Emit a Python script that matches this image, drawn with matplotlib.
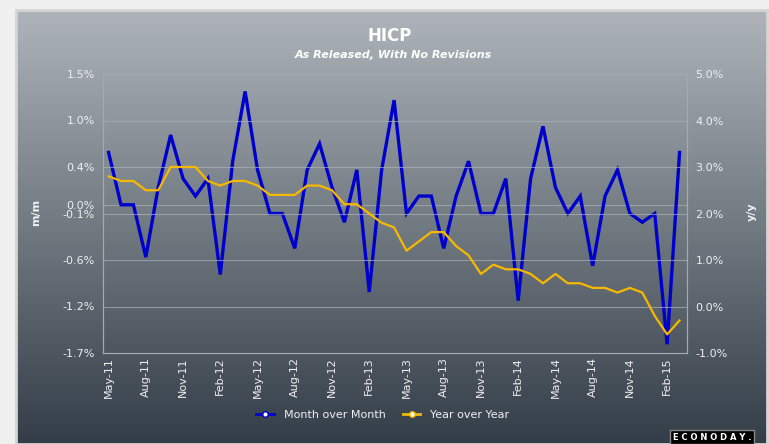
import numpy as np
import matplotlib
matplotlib.use("Agg")
import matplotlib.pyplot as plt
from matplotlib.lines import Line2D

# data, monthly
mom = [0.6, 0.0, 0.0, -0.6, 0.2, 0.8, 0.3, 0.1, 0.3, -0.8, 0.5, 1.3,
       0.4, -0.1, -0.1, -0.5, 0.4, 0.7, 0.2, -0.2, 0.4, -1.0, 0.4, 1.2,
       -0.1, 0.1, 0.1, -0.5, 0.1, 0.5, -0.1, -0.1, 0.3, -1.1, 0.3, 0.9,
       0.2, -0.1, 0.1, -0.7, 0.1, 0.4, -0.1, -0.2, -0.1, -1.6, 0.6]
yoy = [2.8, 2.7, 2.7, 2.5, 2.5, 3.0, 3.0, 3.0, 2.7, 2.6, 2.7, 2.7,
       2.6, 2.4, 2.4, 2.4, 2.6, 2.6, 2.5, 2.2, 2.2, 2.0, 1.8, 1.7,
       1.2, 1.4, 1.6, 1.6, 1.3, 1.1, 0.7, 0.9, 0.8, 0.8, 0.7, 0.5,
       0.7, 0.5, 0.5, 0.4, 0.4, 0.3, 0.4, 0.3, -0.2, -0.6, -0.3]
tick_labels = ['May-11', 'Aug-11', 'Nov-11', 'Feb-12', 'May-12', 'Aug-12',
               'Nov-12', 'Feb-13', 'May-13', 'Aug-13', 'Nov-13', 'Feb-14',
               'May-14', 'Aug-14', 'Nov-14', 'Feb-15']

W, H = 769, 444
fig = plt.figure(figsize=(W / 100, H / 100), dpi=100, facecolor='#f0f0f0')

# gradient panel behind everything
bg = fig.add_axes([16 / W, 0, (767 - 16) / W, 1 - 10 / H], zorder=0)
top = np.array([174, 180, 186]) / 255
bot = np.array([52, 62, 72]) / 255
t = np.linspace(0, 1, 256)[:, None]
grad = top[None, :] * (1 - t) + bot[None, :] * t
bg.imshow(grad[:, None, :], aspect='auto', extent=[0, 1, 0, 1])
bg.set_xticks([])
bg.set_yticks([])
for s in bg.spines.values():
    s.set_color('#d4d4d4')
    s.set_linewidth(2)

x = np.arange(len(mom))
txt = '#eef0f2'
gridc = '#a9b0b6'

ax = fig.add_axes([103 / W, 1 - 353 / H, (687 - 103) / W, (353 - 74) / H], zorder=1)
ax.patch.set_alpha(0)
ax2 = ax.twinx()
ax2.patch.set_alpha(0)

ax.set_xlim(-0.45, 46.6)
ax.set_ylim(-1.7, 1.5)
ax2.set_ylim(-1.0, 5.0)

lticks = list(np.linspace(-1.7, 1.5, 7)) + [0.0]
ax.set_yticks(lticks)
ax.set_yticklabels(['%.1f%%' % v for v in lticks])
ax2.set_yticks(np.arange(-1, 5.1, 1))
ax2.set_yticklabels(['%.1f%%' % v for v in np.arange(-1, 5.1, 1)])

for v in np.arange(0, 5, 1):
    ax2.axhline(v, color=gridc, lw=0.8, alpha=0.7, zorder=0)
ax.axhline(0.0, color=gridc, lw=0.8, alpha=0.7, zorder=0)

ax.plot(x, mom, color='#0000cc', lw=2.4, solid_joinstyle='miter', zorder=3)
ax2.plot(x, yoy, color='#f7b800', lw=1.6, zorder=4)

ax.set_xticks(np.arange(0, 46, 3))
ax.set_xticklabels(tick_labels, rotation=90, color=txt)

for a in (ax, ax2):
    a.tick_params(length=0, colors=txt, labelsize=8)
    for s in a.spines.values():
        s.set_color('#a3aab0')
        s.set_linewidth(0.8)
ax.tick_params(axis='y', pad=6)
ax2.tick_params(axis='y', pad=6)
ax.tick_params(axis='x', pad=3)

fig.text(36 / W, 1 - 212 / H, 'm/m', rotation=90, ha='center', va='center',
         color=txt, fontsize=8, fontweight='bold')
fig.text(752 / W, 1 - 212 / H, 'y/y', rotation=90, ha='center', va='center',
         color=txt, fontsize=8, fontweight='bold')

fig.text(390 / W, 1 - 36 / H, 'HICP', ha='center', va='center', color='white',
         fontsize=12, fontweight='bold')
fig.text(393 / W, 1 - 55 / H, 'As Released, With No Revisions', ha='center',
         va='center', color='white', fontsize=8, fontweight='bold', style='italic')

handles = [Line2D([], [], color='#0000cc', lw=2, marker='o', ms=4,
                  markerfacecolor='white', markeredgecolor='#0000cc'),
           Line2D([], [], color='#f7b800', lw=2, marker='o', ms=4,
                  markerfacecolor='white', markeredgecolor='#f7b800')]
leg = fig.legend(handles, ['Month over Month', 'Year over Year'], loc='center',
                 bbox_to_anchor=(383 / W, 1 - 415 / H), ncol=2, frameon=False,
                 fontsize=8, handlelength=1.6, columnspacing=1.5, handletextpad=0.9)
for tx in leg.get_texts():
    tx.set_color(txt)

fig.text(712 / W, 1 - 437 / H, 'E C O N O D A Y .', ha='center', va='center',
         color='white', fontsize=6, fontweight='bold',
         bbox=dict(facecolor='black', edgecolor='#888888', boxstyle='square,pad=0.3'))

fig.savefig('out.png', dpi=100, facecolor=fig.get_facecolor())
